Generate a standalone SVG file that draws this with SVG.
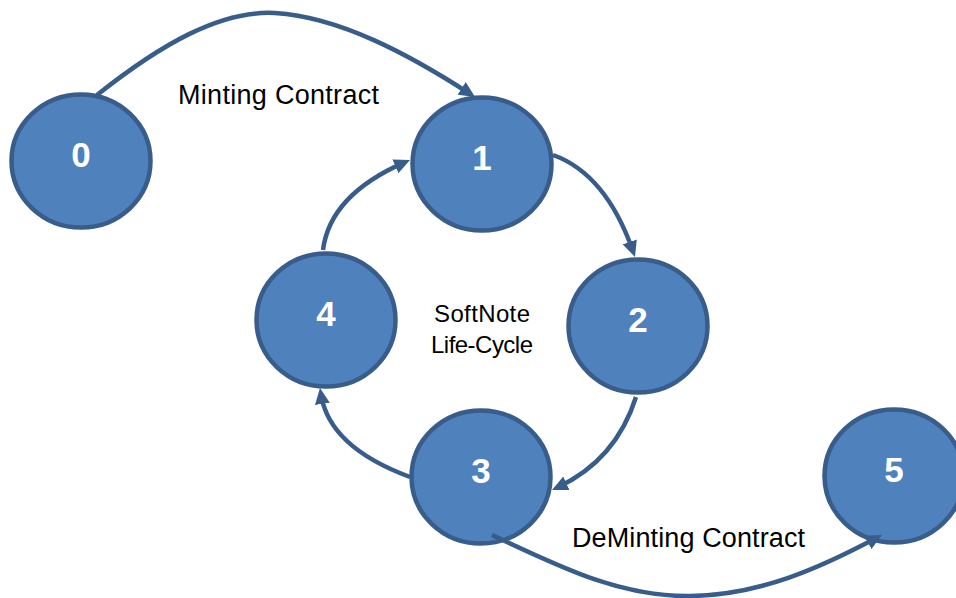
<svg xmlns="http://www.w3.org/2000/svg" width="956" height="598" viewBox="0 0 956 598">
  <style>
    .state ellipse { fill: #4F81BD; stroke: #385D8A; stroke-width: 4.5; }
    .state text { fill: #FFFFFF; font-family: "Liberation Sans", Arial, sans-serif; font-weight: bold; font-size: 35px; text-anchor: middle; }
    .edge { fill: none; stroke: #385D8A; stroke-width: 4.5; marker-end: url(#arrow); }
    .label { fill: #000000; font-family: "Liberation Sans", Arial, sans-serif; }
    .big { font-size: 27px; }
    .small { font-size: 24px; }
  </style>
  <defs>
    <marker id="arrow" markerUnits="userSpaceOnUse" markerWidth="16" markerHeight="15" refX="10" refY="7.5" orient="auto">
      <path d="M0,0 L16,7.5 L0,15 z" fill="#385D8A"/>
    </marker>
  </defs>

  <!-- states -->
  <g id="node-0" class="state">
    <ellipse cx="81" cy="161" rx="69.5" ry="66.5"/>
    <text x="81" y="167">0</text>
  </g>
  <g id="node-1" class="state">
    <ellipse cx="482" cy="164" rx="69.5" ry="66.5"/>
    <text x="482" y="170">1</text>
  </g>
  <g id="node-2" class="state">
    <ellipse cx="638" cy="326" rx="69.5" ry="66.5"/>
    <text x="638" y="332">2</text>
  </g>
  <g id="node-3" class="state">
    <ellipse cx="481" cy="477" rx="69.5" ry="66.5"/>
    <text x="481" y="483">3</text>
  </g>
  <g id="node-4" class="state">
    <ellipse cx="326" cy="320" rx="69.5" ry="66.5"/>
    <text x="326" y="326">4</text>
  </g>
  <g id="node-5" class="state">
    <ellipse cx="894" cy="476" rx="69.5" ry="66.5"/>
    <text x="894" y="482">5</text>
  </g>

  <!-- transitions (each path stops short so the arrowhead tip lands on the target rim) -->
  <g id="connectors">
    <path class="edge" d="M97,95 C160,45 220,10 275,13 C340,17 410,55 470,93.8"/>
    <path class="edge" d="M553,155 Q606,174 633,251.3"/>
    <path class="edge" d="M636,397 Q616,460 557.4,487.5"/>
    <path class="edge" d="M410,477 Q329,447 320.9,394"/>
    <path class="edge" d="M323,250 Q330,195 404.5,162.4"/>
    <path class="edge" d="M492,535 C560,567 620,597 690,596 C760,595 820,568 876.7,537.8"/>
  </g>

  <!-- labels -->
  <g id="labels">
    <text class="label big" x="178" y="104" textLength="201" lengthAdjust="spacing">Minting Contract</text>
    <text class="label big" x="572" y="547" textLength="233" lengthAdjust="spacing">DeMinting Contract</text>
    <text class="label small" x="434" y="322" textLength="96" lengthAdjust="spacing">SoftNote</text>
    <text class="label small" x="431" y="353" textLength="102" lengthAdjust="spacing">Life-Cycle</text>
  </g>
</svg>
